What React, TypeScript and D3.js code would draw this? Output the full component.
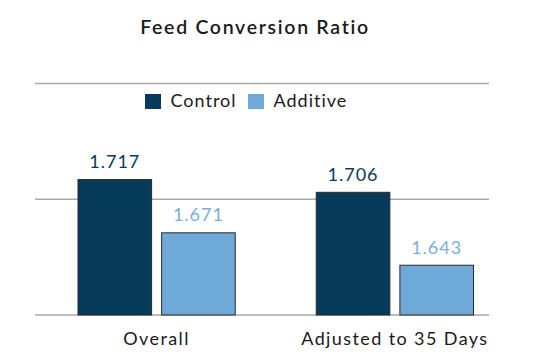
import * as d3 from "d3";
import React, { useEffect, useRef } from "react";

const categories = ["Overall", "Adjusted to 35 Days"];
const seriesNames = ["Control", "Additive"];
const controlValues = [1.717, 1.706];
const additiveValues = [1.671, 1.643];
const gridTicks = [1.6, 1.7, 1.8];

const colors: Record<string, string> = { Control: "#053a5b", Additive: "#6fa9d7" };
const labelColors: Record<string, string> = { Control: "#0b3b5c", Additive: "#7aaedb" };

export default function App() {
  const svgRef = useRef<SVGSVGElement>(null);
  const width = 550;
  const height = 363;

  useEffect(() => {
    document.body.style.margin = "0";
    const svg = d3.select(svgRef.current);
    svg.selectAll("*").remove();
    const font = "Lato, 'Open Sans', sans-serif";

    const data = categories.map((c, i) => ({
      category: c,
      values: [
        { key: "Control", value: controlValues[i] },
        { key: "Additive", value: additiveValues[i] },
      ],
    }));

    // scales
    const y = d3.scaleLinear().domain([1.6, 1.8]).range([315, 83.5]);
    const x0 = d3.scaleBand()
      .domain(categories)
      .range([37.5, 514])
      .paddingInner(0.34)
      .paddingOuter(0.17);
    const x1 = d3.scaleBand()
      .domain(seriesNames)
      .range([0, x0.bandwidth()])
      .paddingInner(0.12);

    // title
    svg.append("text")
      .attr("x", 255)
      .attr("y", 34)
      .attr("text-anchor", "middle")
      .attr("font-family", font)
      .attr("font-size", 19.5)
      .attr("font-weight", 600)
      .attr("letter-spacing", 1.7)
      .attr("fill", "#1a1a1a")
      .text("Feed Conversion Ratio");

    // gridlines
    svg.append("g")
      .selectAll("line")
      .data(gridTicks)
      .enter()
      .append("line")
      .attr("x1", 35)
      .attr("x2", 489)
      .attr("y1", (d) => y(d))
      .attr("y2", (d) => y(d))
      .attr("stroke", "#a8a8a8")
      .attr("stroke-width", 1.5);

    // legend
    const legendX = [145, 248];
    const legend = svg.append("g");
    seriesNames.forEach((s, i) => {
      legend.append("rect")
        .attr("x", legendX[i])
        .attr("y", 94)
        .attr("width", 16)
        .attr("height", 15)
        .attr("fill", colors[s]);
      legend.append("text")
        .attr("x", legendX[i] + 25.5)
        .attr("y", 106.7)
        .attr("font-family", font)
        .attr("font-size", 18)
        .attr("letter-spacing", 1.0)
        .attr("fill", "#1a1a1a")
        .text(s);
    });

    // bars
    const groups = svg.append("g")
      .selectAll("g")
      .data(data)
      .enter()
      .append("g")
      .attr("transform", (d) => `translate(${x0(d.category)},0)`);

    groups.selectAll("rect")
      .data((d) => d.values)
      .enter()
      .append("rect")
      .attr("x", (d) => x1(d.key)!)
      .attr("width", x1.bandwidth())
      .attr("y", (d) => y(d.value))
      .attr("height", (d) => y(1.6) - y(d.value))
      .attr("fill", (d) => colors[d.key])
      .attr("stroke", "#2b2b2b")
      .attr("stroke-width", 1);

    groups.selectAll("text.val")
      .data((d) => d.values)
      .enter()
      .append("text")
      .attr("class", "val")
      .attr("x", (d) => x1(d.key)! + x1.bandwidth() / 2)
      .attr("y", (d) => y(d.value) - 11.5)
      .attr("text-anchor", "middle")
      .attr("font-family", font)
      .attr("font-size", 18)
      .attr("letter-spacing", 1.0)
      .attr("fill", (d) => labelColors[d.key])
      .text((d) => d3.format(".3f")(d.value));

    // category labels
    svg.append("g")
      .selectAll("text")
      .data(categories)
      .enter()
      .append("text")
      .attr("x", (d) => x0(d)! + x0.bandwidth() / 2)
      .attr("y", 345)
      .attr("text-anchor", "middle")
      .attr("font-family", font)
      .attr("font-size", 18)
      .attr("letter-spacing", 1.4)
      .attr("fill", "#1a1a1a")
      .text((d) => d);
  }, []);

  return (
    <div>
      <svg ref={svgRef} width={width} height={height} style={{ display: "block", background: "#fff" }}></svg>
    </div>
  );
}
